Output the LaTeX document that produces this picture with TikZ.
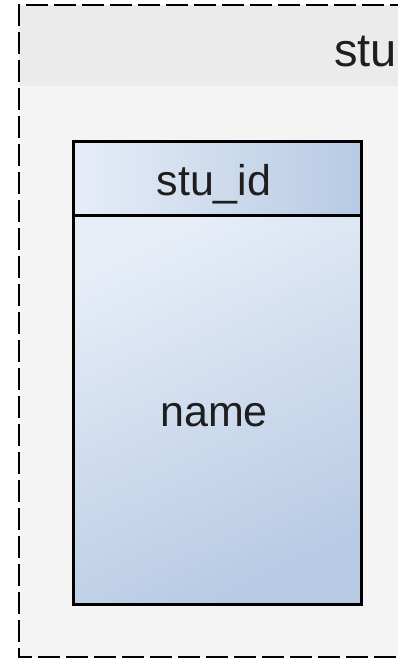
\documentclass[tikz,border=0pt]{standalone}
\usepackage{fontspec}
\setmainfont{Liberation Sans}
\definecolor{titlegray}{HTML}{EBEBEB}
\definecolor{bodygray}{HTML}{F4F4F4}
\definecolor{blueL}{HTML}{E6EDF7}
\definecolor{blueR}{HTML}{B7CAE4}
\definecolor{txt}{HTML}{1E1E1E}
\tikzset{
  container/.style={draw=black, line width=2pt, dash pattern=on 22pt off 6pt, fill=none},
  lbl/.style={text=txt, font=\fontsize{43}{50}\selectfont, inner sep=0pt}
}
\begin{document}
\begin{tikzpicture}[x=1pt,y=1pt]
\useasboundingbox (0,0) rectangle (398,-658);
\clip (0,0) rectangle (398,-658);
% container background
\fill[bodygray] (19,-5) rectangle (440,-657);
\fill[titlegray] (19,-5) rectangle (440,-86);
\node[lbl, font=\fontsize{47}{54}\selectfont, anchor=base west] (title) at (334,-67) {stu};
\draw[container] (440,-5) -- (19,-5) -- (19,-657) -- (440,-657);
% entity
\shade[top color=blueL, bottom color=blueR, shading angle=25] (73,-215) rectangle (361,-604);
\node[inner sep=0pt, minimum width=288pt, minimum height=389pt, anchor=north west] (body) at (73,-215) {};
\shade[left color=blueL, right color=blueR] (73,-141) rectangle (361,-215);
\node[inner sep=0pt, minimum width=288pt, minimum height=74pt, anchor=north west] (head) at (73,-141) {};
\draw[line width=3pt] (head.north west) rectangle (body.south east);
\draw[line width=3pt] (head.south west) -- (head.south east);
\node[lbl, anchor=base] (pk) at (214,-195) {stu\_id};
\node[lbl, anchor=base] (attr) at (214,-426) {name};
\end{tikzpicture}
\end{document}
